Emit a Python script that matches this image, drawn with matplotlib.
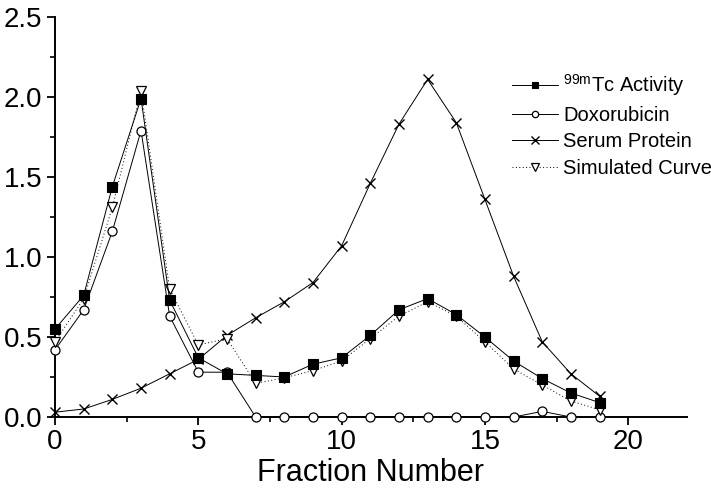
import matplotlib
matplotlib.use("Agg")
import matplotlib.pyplot as plt
from matplotlib.ticker import MultipleLocator

plt.rcParams["font.family"] = ["Liberation Sans", "DejaVu Sans"]

# values
fraction = list(range(20))
tc_activity = [0.55, 0.76, 1.44, 1.99, 0.73, 0.37, 0.27, 0.26, 0.25, 0.33,
               0.37, 0.51, 0.67, 0.74, 0.64, 0.50, 0.35, 0.24, 0.15, 0.09]
doxorubicin = [0.42, 0.67, 1.16, 1.79, 0.63, 0.28, 0.28, 0.0, 0.0, 0.0,
               0.0, 0.0, 0.0, 0.0, 0.0, 0.0, 0.0, 0.035, 0.0, 0.0]
serum_protein = [0.03, 0.05, 0.11, 0.18, 0.27, 0.36, 0.51, 0.62, 0.72, 0.84,
                 1.07, 1.46, 1.83, 2.11, 1.84, 1.36, 0.88, 0.47, 0.27, 0.13]
simulated = [0.47, 0.74, 1.31, 2.04, 0.80, 0.45, 0.49, 0.21, 0.245, 0.29,
             0.35, 0.49, 0.63, 0.72, 0.63, 0.47, 0.30, 0.20, 0.10, 0.045]

fig = plt.figure(figsize=(7.11, 4.88), dpi=100)
ax = fig.add_axes([0.0774, 0.1455, 0.8888, 0.8197])

lw = 0.7
ax.plot(fraction, serum_protein, color="black", lw=lw, marker="x", ms=7.5,
        mew=1.0, label="Serum Protein", clip_on=False, zorder=3)
ax.plot(fraction, doxorubicin, color="black", lw=lw, marker="o", ms=6.5,
        mfc="white", mew=0.9, label="Doxorubicin", clip_on=False, zorder=4)
ax.plot(fraction, simulated, color="black", lw=lw, ls=(0, (1, 2.5)), marker="v",
        ms=7.5, mfc="white", mew=0.9, label="Simulated Curve", clip_on=False, zorder=5)
ax.plot(fraction, tc_activity, color="black", lw=lw, marker="s", ms=6.5,
        mfc="black", mew=0.8, label=r"$\mathregular{^{99m}}$Tc Activity",
        clip_on=False, zorder=6)

ax.set_xlim(0, 22.05)
ax.set_ylim(0, 2.5)
ax.xaxis.set_major_locator(MultipleLocator(5))
ax.xaxis.set_minor_locator(MultipleLocator(2.5))
ax.yaxis.set_major_locator(MultipleLocator(0.5))
ax.yaxis.set_minor_locator(MultipleLocator(0.25))
ax.yaxis.set_major_formatter(matplotlib.ticker.FormatStrFormatter("%.1f"))

for side in ["top", "right"]:
    ax.spines[side].set_visible(False)
for side in ["left", "bottom"]:
    ax.spines[side].set_linewidth(1.4)

ax.tick_params(which="major", direction="out", length=6, width=1.3,
               labelsize=20, pad=3)
ax.tick_params(which="minor", direction="out", length=3.5, width=1.2)
ax.set_xlabel("Fraction Number", fontsize=22, labelpad=2)

handles, labels = ax.get_legend_handles_labels()
order = [3, 1, 0, 2]
ax.legend([handles[i] for i in order], [labels[i] for i in order],
          loc="upper left", bbox_to_anchor=(512 / 711, 1 - 72 / 488),
          bbox_transform=fig.transFigure, frameon=False, fontsize=14.5,
          handlelength=2.3, handletextpad=0.25, labelspacing=0.38,
          borderpad=0, borderaxespad=0, markerscale=0.7)

fig.savefig("out.png", dpi=100)
